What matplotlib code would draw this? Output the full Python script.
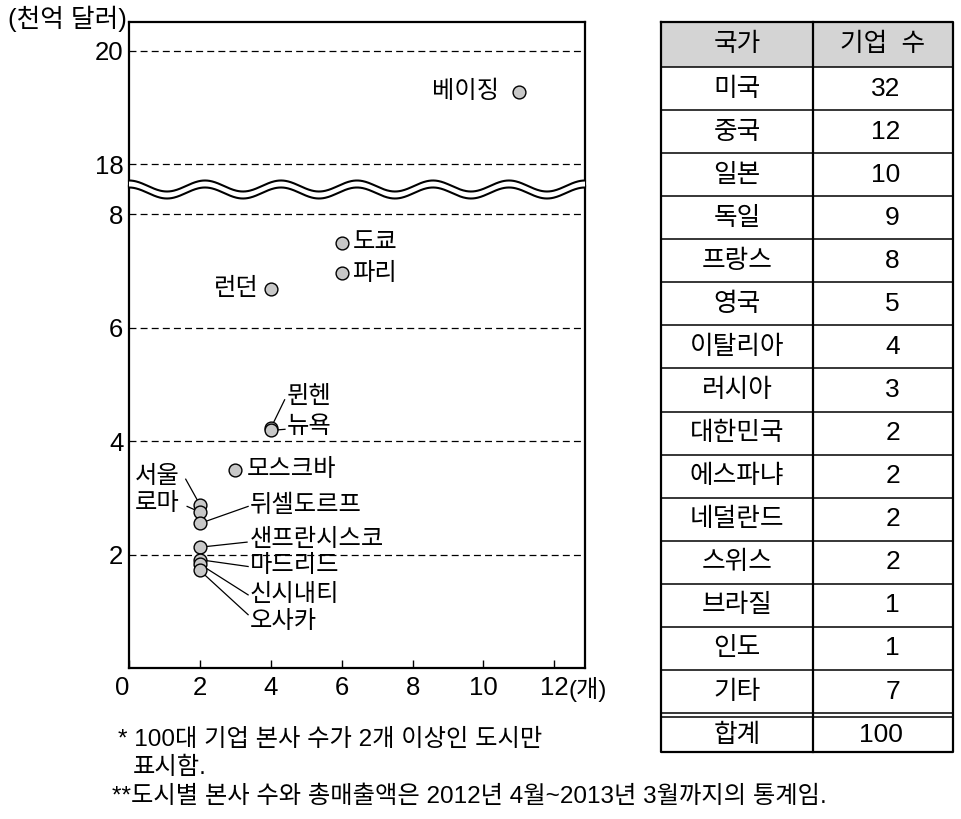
import numpy as np
import matplotlib.pyplot as plt
from matplotlib.lines import Line2D
from matplotlib.patches import Polygon, Rectangle

plt.rcParams['font.family'] = ['Liberation Sans', 'Noto Sans CJK KR']
plt.rcParams['lines.scale_dashes'] = False

# 도시별 100대 기업 본사 수와 총매출액(천억 달러)
cities = ['베이징', '도쿄', '파리', '런던', '뮌헨', '뉴욕', '모스크바', '서울', '로마',
          '뒤셀도르프', '샌프란시스코', '마드리드', '신시내티', '오사카']
hq_counts = [11, 6, 6, 4, 4, 4, 3, 2, 2, 2, 2, 2, 2, 2]
sales = [19.27, 7.50, 6.97, 6.69, 4.23, 4.19, 3.49, 2.88, 2.75, 2.55, 2.13, 1.91, 1.83, 1.72]

# 국가별 기업 수
countries = ['미국', '중국', '일본', '독일', '프랑스', '영국', '이탈리아', '러시아', '대한민국',
             '에스파냐', '네덜란드', '스위스', '브라질', '인도', '기타']
firms = [32, 12, 10, 9, 8, 5, 4, 3, 2, 2, 2, 2, 1, 1, 7]

x_ticks = [0, 2, 4, 6, 8, 10, 12]
y_ticks_low = [2, 4, 6, 8]
y_ticks_high = [18, 20]

# 라벨 위치 (텍스트 x, 텍스트 y, 정렬, 지시선 끝점)
label_pos = {
    '베이징': (10.45, 19.27, 'right', None),
    '도쿄': (6.30, 7.50, 'left', None),
    '파리': (6.30, 6.95, 'left', None),
    '런던': (3.65, 6.68, 'right', None),
    '뮌헨': (4.45, 4.78, 'left', (4.39, 4.73)),
    '뉴욕': (4.45, 4.25, 'left', (4.40, 4.21)),
    '모스크바': (3.32, 3.49, 'left', None),
    '서울': (1.43, 3.37, 'right', (1.60, 3.33)),
    '로마': (1.43, 2.90, 'right', (1.64, 2.85)),
    '뒤셀도르프': (3.41, 2.86, 'left', (3.36, 2.85)),
    '샌프란시스코': (3.41, 2.26, 'left', (3.33, 2.22)),
    '마드리드': (3.41, 1.80, 'left', (3.36, 1.79)),
    '신시내티': (3.41, 1.29, 'left', (3.36, 1.29)),
    '오사카': (3.41, 0.82, 'left', (3.36, 0.94)),
}

W, H = 961, 819
fig = plt.figure(figsize=(W / 100, H / 100), dpi=100)


def box(x0, y0, x1, y1):
    # 픽셀(왼쪽 위 기준) -> figure 좌표
    return [x0 / W, 1 - y1 / H, (x1 - x0) / W, (y1 - y0) / H]


px_x = 35.45   # x 1 단위당 픽셀
px_y = 56.7    # y 1 단위당 픽셀
left, right = 129, 585
top, brk, bottom = 22, 186, 668

ax_top = fig.add_axes(box(left, top, right, brk))
ax_bot = fig.add_axes(box(left, brk, right, bottom))

xmax = (right - left) / px_x
ax_top.set_xlim(0, xmax)
ax_bot.set_xlim(0, xmax)
ax_bot.set_ylim(0, (bottom - brk) / px_y)
ax_top.set_ylim(20 - (brk - 50.7) / px_y, 20 + (50.7 - top) / px_y)

for ax in (ax_top, ax_bot):
    for s in ax.spines.values():
        s.set_linewidth(1.6)
    ax.scatter(hq_counts, sales, s=85, color='#c8c8c8', edgecolor='black',
               linewidth=1.0, zorder=4)
ax_top.spines['bottom'].set_visible(False)
ax_bot.spines['top'].set_visible(False)

# 눈금
ax_top.set_xticks([])
ax_top.set_yticks(y_ticks_high)
ax_bot.set_yticks(y_ticks_low)
ax_bot.set_xticks(x_ticks)
ax_bot.set_xticklabels([str(t) for t in x_ticks])
ax_bot.tick_params(axis='x', direction='in', length=6, width=1.0, labelsize=18.5, pad=6)
ax_top.tick_params(axis='y', length=0, labelsize=18.5, pad=4)
ax_bot.tick_params(axis='y', length=0, labelsize=18.5, pad=4)
ax_bot.get_xticklabels()[0].set_horizontalalignment('right')

# 점선 격자
for ax, ticks in ((ax_top, y_ticks_high), (ax_bot, y_ticks_low)):
    for t in ticks:
        ax.axhline(t, color='black', lw=0.9, dashes=(5, 3), zorder=1)

# 도시 라벨
for city, cx, cy in zip(cities, hq_counts, sales):
    tx, ty, ha, lead = label_pos[city]
    ax = ax_top if cy > 10 else ax_bot
    ax.text(tx, ty, city, ha=ha, va='center', fontsize=17.5)
    if lead is not None:
        ax.plot([cx, lead[0]], [cy, lead[1]], color='black', lw=0.9, zorder=3)

# 물결 모양 생략 표시
xs = np.linspace(left, right, 600)
phase = np.cos(2 * np.pi * (xs - left) / ((right - left) / 6))
upper = 186 - 5.5 * phase
lower = 193 - 5.5 * phase
fx = xs / W
poly = np.column_stack([np.concatenate([fx, fx[::-1]]),
                        np.concatenate([1 - upper / H, (1 - lower / H)[::-1]])])
fig.add_artist(Polygon(poly, closed=True, facecolor='white', edgecolor='none',
                       transform=fig.transFigure, zorder=5))
for wave in (upper, lower):
    fig.add_artist(Line2D(fx, 1 - wave / H, color='black', lw=1.5,
                          transform=fig.transFigure, zorder=6))

# 단위
fig.text(127 / W, 1 - 19 / H, '(천억 달러)', ha='right', va='center', fontsize=18.5)
fig.text(569 / W, 1 - 689 / H, '(개)', ha='left', va='center', fontsize=17.5)

# 국가별 기업 수 표
tl, tr, tdiv = 661, 953, 813
t_top, head_bot, row_h = 22, 67, 43.07
ax_t = fig.add_axes(box(tl, 22, tr, 752))
ax_t.set_xlim(tl, tr)
ax_t.set_ylim(752, 22)
ax_t.axis('off')

ax_t.add_patch(Rectangle((tl, t_top), tr - tl, head_bot - t_top, facecolor='#d4d4d4',
                         edgecolor='none'))
ax_t.text((tl + tdiv) / 2, (t_top + head_bot) / 2, '국가', ha='center', va='center',
          fontsize=18.5)
ax_t.text(883, (t_top + head_bot) / 2, '기업  수', ha='center', va='center', fontsize=18.5)

for i, (c, n) in enumerate(zip(countries, firms)):
    y0 = head_bot + i * row_h
    ax_t.text((tl + tdiv) / 2, y0 + row_h / 2, c, ha='center', va='center', fontsize=18.5)
    ax_t.text(900, y0 + row_h / 2, str(n), ha='right', va='center', fontsize=19)

rows_end = head_bot + len(countries) * row_h
tot_top = rows_end + 4
ax_t.text((tl + tdiv) / 2, (tot_top + 752) / 2, '합계', ha='center', va='center',
          fontsize=18.5)
ax_t.text(903, (tot_top + 752) / 2, str(sum(firms)), ha='right', va='center', fontsize=19)

for i in range(len(countries)):
    y = head_bot + i * row_h
    ax_t.plot([tl, tr], [y, y], color='black', lw=1.1, clip_on=False)
ax_t.plot([tl, tr], [rows_end, rows_end], color='black', lw=1.1, clip_on=False)
ax_t.plot([tl, tr], [tot_top, tot_top], color='black', lw=1.1, clip_on=False)
ax_t.plot([tl, tr, tr, tl, tl], [t_top, t_top, 752, 752, t_top], color='black', lw=1.6,
          clip_on=False)
ax_t.plot([tdiv, tdiv], [t_top, 752], color='black', lw=1.6, clip_on=False)

# 주석
fig.text(118 / W, 1 - 740 / H, '* 100대 기업 본사 수가 2개 이상인 도시만', ha='left',
         va='center', fontsize=17.5)
fig.text(133 / W, 1 - 768 / H, '표시함.', ha='left', va='center', fontsize=17.5)
fig.text(112 / W, 1 - 797 / H,
         '**도시별 본사 수와 총매출액은 2012년 4월~2013년 3월까지의 통계임.',
         ha='left', va='center', fontsize=17.5)

fig.savefig('out.png', dpi=100, facecolor='white')
